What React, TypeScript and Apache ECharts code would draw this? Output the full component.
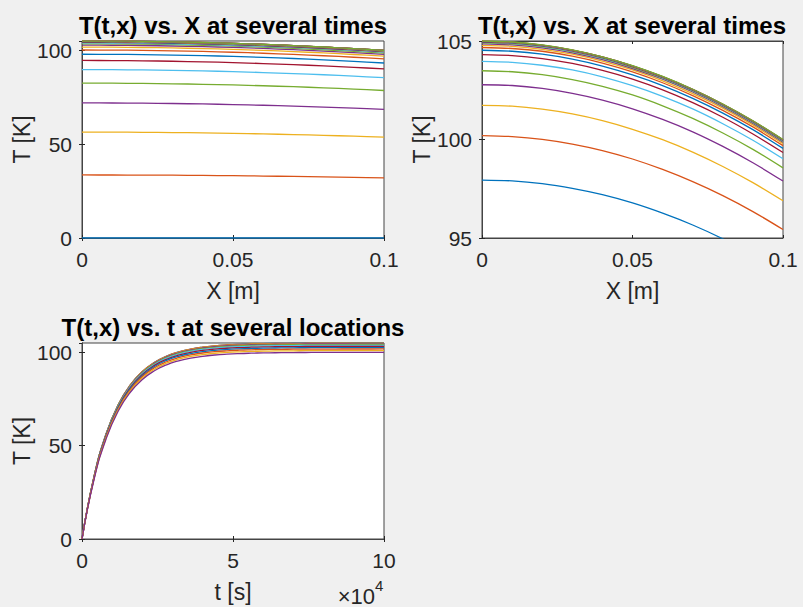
import React, { useEffect, useRef } from "react";
import * as echarts from "echarts";

// MATLAB default line colour order
const COLORS = ["#0072BD", "#D95319", "#EDB120", "#7E2F8E", "#77AC30", "#4DBEEE", "#A2142F"];

// spatial grid [m]
const X_POS = [0, 0.01, 0.02, 0.03, 0.04, 0.05, 0.06, 0.07, 0.08, 0.09, 0.1];

// output times [s]
const TIMES = [
  0, 4000, 8000, 12000, 16000, 20000, 24000, 28000, 32000, 36000, 40000, 44000, 48000,
  52000, 56000, 60000, 64000, 68000, 72000, 76000, 80000, 84000, 88000, 92000, 96000, 100000,
];

// T(t, x) [K]: one row per time, one column per location
const T_ROWS = [
  [0, 0, 0, 0, 0, 0, 0, 0, 0, 0, 0],
  [33.6, 33.58, 33.54, 33.46, 33.34, 33.2, 33.02, 32.82, 32.58, 32.3, 32.0],
  [56.45, 56.42, 56.34, 56.21, 56.02, 55.78, 55.48, 55.13, 54.73, 54.27, 53.76],
  [71.99, 71.95, 71.85, 71.68, 71.44, 71.13, 70.75, 70.31, 69.79, 69.21, 68.56],
  [82.55, 82.51, 82.39, 82.2, 81.92, 81.57, 81.14, 80.63, 80.04, 79.37, 78.62],
  [89.73, 89.69, 89.56, 89.35, 89.05, 88.66, 88.19, 87.64, 87.0, 86.27, 85.46],
  [94.62, 94.57, 94.44, 94.21, 93.89, 93.49, 92.99, 92.41, 91.73, 90.97, 90.11],
  [97.94, 97.9, 97.76, 97.52, 97.2, 96.78, 96.26, 95.66, 94.96, 94.17, 93.28],
  [100.2, 100.15, 100.01, 99.77, 99.44, 99.01, 98.48, 97.86, 97.15, 96.34, 95.43],
  [101.73, 101.69, 101.54, 101.3, 100.96, 100.52, 99.99, 99.36, 98.63, 97.81, 96.89],
  [102.78, 102.74, 102.59, 102.34, 102.0, 101.56, 101.02, 100.39, 99.65, 98.82, 97.89],
  [103.49, 103.44, 103.29, 103.04, 102.7, 102.26, 101.71, 101.07, 100.33, 99.5, 98.56],
  [103.97, 103.92, 103.77, 103.53, 103.18, 102.73, 102.19, 101.55, 100.8, 99.96, 99.02],
  [104.31, 104.26, 104.11, 103.86, 103.51, 103.07, 102.52, 101.87, 101.13, 100.28, 99.34],
  [104.53, 104.48, 104.33, 104.08, 103.73, 103.28, 102.74, 102.09, 101.34, 100.5, 99.55],
  [104.67, 104.62, 104.48, 104.23, 103.88, 103.43, 102.88, 102.23, 101.48, 100.64, 99.69],
  [104.78, 104.73, 104.58, 104.33, 103.98, 103.53, 102.98, 102.33, 101.59, 100.74, 99.79],
  [104.85, 104.8, 104.65, 104.4, 104.05, 103.6, 103.06, 102.41, 101.66, 100.81, 99.86],
  [104.9, 104.85, 104.7, 104.45, 104.1, 103.65, 103.1, 102.45, 101.7, 100.85, 99.9],
  [104.93, 104.88, 104.73, 104.48, 104.13, 103.68, 103.13, 102.48, 101.73, 100.88, 99.93],
  [104.95, 104.9, 104.75, 104.5, 104.15, 103.7, 103.15, 102.5, 101.75, 100.9, 99.95],
  [104.97, 104.92, 104.77, 104.52, 104.17, 103.72, 103.17, 102.52, 101.77, 100.92, 99.97],
  [104.98, 104.93, 104.78, 104.53, 104.18, 103.73, 103.18, 102.53, 101.78, 100.93, 99.98],
  [104.99, 104.94, 104.79, 104.54, 104.19, 103.74, 103.19, 102.54, 101.79, 100.94, 99.99],
  [104.99, 104.94, 104.79, 104.54, 104.19, 103.74, 103.19, 102.54, 101.79, 100.94, 99.99],
  [105, 104.95, 104.8, 104.55, 104.2, 103.75, 103.2, 102.55, 101.8, 100.95, 100],
];

const TITLE_X = "T(t,x) vs. X at several times";
const TITLE_T = "T(t,x) vs. t at several locations";

const FONT = "'Liberation Sans', Arial, Helvetica, sans-serif";
const AX = "#262626";
const BOX = "#444444";

export default function App() {
  const ref = useRef<HTMLDivElement>(null);
  useEffect(() => {
    const chart = echarts.init(ref.current!, null, { renderer: "svg" });

    const grids = [
      { left: 82, top: 41, width: 302, height: 197 },
      { left: 482, top: 41, width: 301, height: 197 },
      { left: 82, top: 343, width: 302, height: 196 },
    ].map((g) => ({ ...g, show: true, backgroundColor: "#ffffff", borderColor: BOX, borderWidth: 1 }));

    const tickCommon = { inside: true, length: 3, lineStyle: { color: AX, width: 1 } };
    const labelCommon = { color: AX, fontSize: 21, fontFamily: FONT };
    const nameCommon = { color: AX, fontSize: 23, fontFamily: FONT };

    const mkX = (grid: number, min: number, max: number, interval: number, name: string, fmt?: (v: number) => string) => ({
      type: "value",
      gridIndex: grid,
      min,
      max,
      interval,
      position: "bottom",
      name,
      nameLocation: "middle",
      nameGap: 41,
      nameTextStyle: nameCommon,
      axisLine: { show: true, lineStyle: { color: BOX } },
      axisTick: tickCommon,
      splitLine: { show: false },
      axisLabel: { ...labelCommon, margin: 11, formatter: fmt },
    });
    const mkXTop = (grid: number, min: number, max: number, interval: number) => ({
      type: "value",
      gridIndex: grid,
      min,
      max,
      interval,
      position: "top",
      axisLine: { show: true, lineStyle: { color: BOX } },
      axisTick: tickCommon,
      splitLine: { show: false },
      axisLabel: { show: false },
    });
    const mkY = (grid: number, min: number, max: number, interval: number, showMax: boolean) => ({
      type: "value",
      gridIndex: grid,
      min,
      max,
      interval,
      position: "left",
      name: "T [K]",
      nameLocation: "middle",
      nameGap: 48,
      nameTextStyle: nameCommon,
      axisLine: { show: true, lineStyle: { color: BOX } },
      axisTick: tickCommon,
      splitLine: { show: false },
      axisLabel: { ...labelCommon, margin: 10, showMaxLabel: showMax },
    });
    const mkYRight = (grid: number, min: number, max: number, interval: number) => ({
      type: "value",
      gridIndex: grid,
      min,
      max,
      interval,
      position: "right",
      axisLine: { show: true, lineStyle: { color: BOX } },
      axisTick: tickCommon,
      splitLine: { show: false },
      axisLabel: { show: false },
    });

    const series: any[] = [];
    // plot 1 and 2: profiles at each time
    [0, 1].forEach((g) => {
      T_ROWS.forEach((row, n) => {
        series.push({
          type: "line",
          xAxisIndex: g,
          yAxisIndex: g,
          data: row.map((v, j) => [X_POS[j], v]),
          showSymbol: false,
          symbol: "none",
          smooth: 0.3,
          clip: true,
          lineStyle: { color: COLORS[n % 7], width: 1.3 },
          itemStyle: { color: COLORS[n % 7] },
        });
      });
    });
    // plot 3: histories at each location
    X_POS.forEach((_, j) => {
      series.push({
        type: "line",
        xAxisIndex: 2,
        yAxisIndex: 2,
        data: TIMES.map((t, n) => [t, T_ROWS[n][j]]),
        showSymbol: false,
        symbol: "none",
        smooth: 0.5,
        clip: true,
        lineStyle: { color: COLORS[j % 7], width: 1.3 },
        itemStyle: { color: COLORS[j % 7] },
      });
    });

    const titleStyle = { fontSize: 24, fontWeight: "bold", fontFamily: FONT, fill: "#000000", align: "center", verticalAlign: "middle" };

    chart.setOption({
      animation: false,
      backgroundColor: "#f0f0f0",
      grid: grids,
      xAxis: [
        mkX(0, 0, 0.1, 0.05, "X [m]"),
        mkX(1, 0, 0.1, 0.05, "X [m]"),
        mkX(2, 0, 100000, 50000, "t [s]", (v: number) => String(v / 10000)),
        mkXTop(0, 0, 0.1, 0.05),
        mkXTop(1, 0, 0.1, 0.05),
        mkXTop(2, 0, 100000, 50000),
      ],
      yAxis: [
        mkY(0, 0, 105, 50, false),
        mkY(1, 95, 105, 5, true),
        mkY(2, 0, 105, 50, false),
        mkYRight(0, 0, 105, 50),
        mkYRight(1, 95, 105, 5),
        mkYRight(2, 0, 105, 50),
      ],
      series,
      graphic: [
        { type: "text", x: 233, y: 25, style: { ...titleStyle, text: TITLE_X } },
        { type: "text", x: 632, y: 25, style: { ...titleStyle, text: TITLE_X } },
        { type: "text", x: 233, y: 327, style: { ...titleStyle, text: TITLE_T } },
        { type: "text", x: 375, y: 596, style: { text: "×10", fontSize: 22, fontFamily: FONT, fill: AX, align: "right", verticalAlign: "middle" } },
        { type: "text", x: 375, y: 585, style: { text: "4", fontSize: 15, fontFamily: FONT, fill: AX, align: "left", verticalAlign: "middle" } },
      ],
    });
    return () => chart.dispose();
  }, []);
  return (
    <div
      ref={ref}
      style={{ position: "fixed", left: 0, top: 0, width: 803, height: 607, background: "#f0f0f0" }}
    />
  );
}
